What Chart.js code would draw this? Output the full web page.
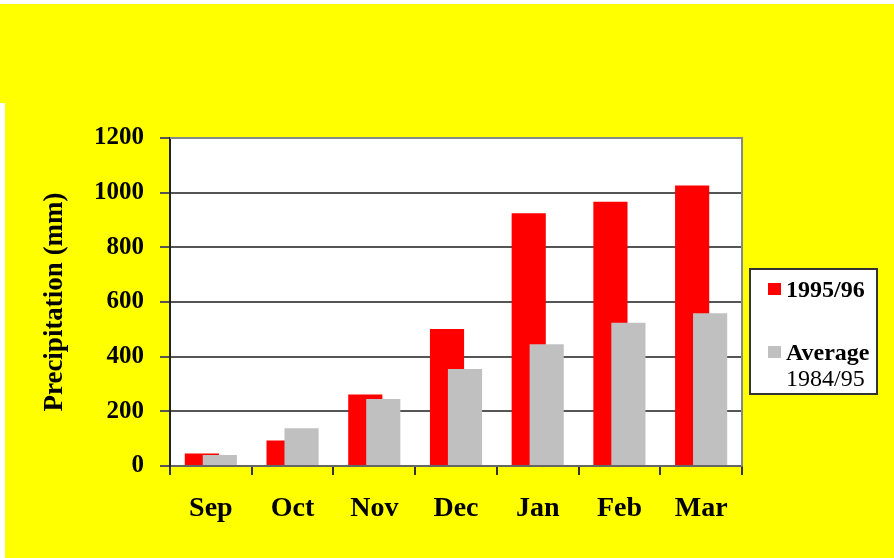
<!DOCTYPE html>
<html>
<head>
<meta charset="utf-8">
<script src="https://cdn.jsdelivr.net/npm/chart.js@4"></script>
<style>
  html, body { margin: 0; padding: 0; background: #ffffff; }
</style>
</head>
<body>
<canvas id="rainChart" width="894" height="558"></canvas>
<script>
const months = ["Sep", "Oct", "Nov", "Dec", "Jan", "Feb", "Mar"];
const season9596 = [46, 93, 262, 501, 925, 967, 1026];
const avg8495 = [40, 138, 245, 355, 445, 524, 559];
const seriesLabels = [["1995/96"], ["Average", "1984/95"]];

const SERIF = "'Liberation Serif', 'DejaVu Serif', serif";

// yellow backdrop + white plot area
const backdrop = {
  id: "backdrop",
  beforeDraw(chart) {
    const { ctx, chartArea: a } = chart;
    ctx.save();
    ctx.fillStyle = "#ffff00";
    ctx.fillRect(0, 0, chart.width, chart.height);
    ctx.fillStyle = "#ffffff";
    ctx.fillRect(0, 0, chart.width, 4);
    ctx.fillRect(0, 103, 5, chart.height - 103);
    ctx.fillRect(a.left, a.top, a.right - a.left, a.bottom - a.top);
    ctx.restore();
  },
  // draw red first so the grey bars overlap it, like the original
  beforeDatasetsDraw(chart) {
    chart.getDatasetMeta(0).controller.draw();
    chart.getDatasetMeta(1).controller.draw();
    return false;
  },
  afterDraw(chart) {
    const { ctx, chartArea: a } = chart;
    ctx.save();
    ctx.strokeStyle = "#888888";
    ctx.lineWidth = 2;
    ctx.beginPath();
    ctx.moveTo(a.left, a.top);
    ctx.lineTo(a.right, a.top);
    ctx.lineTo(a.right, a.bottom);
    ctx.stroke();
    ctx.restore();
  }
};

// boxed legend on the right, with a two-line label
const boxLegend = {
  id: "boxLegend",
  afterDraw(chart) {
    const ctx = chart.ctx;
    const x = 750, y = 269, w = 127, h = 125;
    ctx.save();
    ctx.fillStyle = "#ffffff";
    ctx.fillRect(x, y, w, h);
    ctx.strokeStyle = "#333333";
    ctx.lineWidth = 2;
    ctx.strokeRect(x, y, w, h);
    const rows = [283, 346];
    chart.data.datasets.forEach((ds, i) => {
      const top = rows[i];
      ctx.fillStyle = ds.backgroundColor;
      ctx.fillRect(768, top, 13, 12);
      ctx.fillStyle = "#000000";
      ctx.textBaseline = "alphabetic";
      ctx.textAlign = "left";
      seriesLabels[i].forEach((line, j) => {
        ctx.font = (j === 0 ? "bold " : "") + "24px " + SERIF;
        ctx.fillText(line, 786, top + 14 + j * 26);
      });
    });
    ctx.restore();
  }
};

new Chart(document.getElementById("rainChart"), {
  type: "bar",
  data: {
    labels: months,
    datasets: [
      { label: "1995/96", data: season9596, backgroundColor: "#ff0000" },
      { label: "Average 1984/95", data: avg8495, backgroundColor: "#c0c0c0" }
    ]
  },
  options: {
    responsive: false,
    animation: false,
    categoryPercentage: 0.44,
    barPercentage: 1.9,
    layout: { padding: { left: 35, top: 138, right: 152, bottom: 0 } },
    plugins: {
      legend: { display: false },
      tooltip: { enabled: false }
    },
    scales: {
      x: {
        offset: true,
        grid: { drawOnChartArea: false, drawTicks: true, tickLength: 9, color: "#333333", lineWidth: 2 },
        border: { color: "#666666", width: 2 },
        ticks: { color: "#000000", padding: 17, font: { family: SERIF, size: 28, weight: "bold" } },
        afterFit(scale) { scale.height = 92; }
      },
      y: {
        min: 0,
        max: 1200,
        ticks: {
          stepSize: 200,
          color: "#000000",
          padding: 16,
          font: { family: SERIF, size: 25, weight: "bold" },
          callback: (v) => String(v)
        },
        grid: { color: "#555555", lineWidth: 2, tickLength: 10 },
        border: { color: "#222222", width: 2 },
        title: {
          display: true,
          text: "Precipitation (mm)",
          color: "#000000",
          padding: { top: 4, bottom: 4 },
          font: { family: SERIF, size: 27, weight: "bold" }
        },
        afterFit(scale) { scale.width = 135; }
      }
    }
  },
  plugins: [backdrop, boxLegend]
});
</script>
</body>
</html>
